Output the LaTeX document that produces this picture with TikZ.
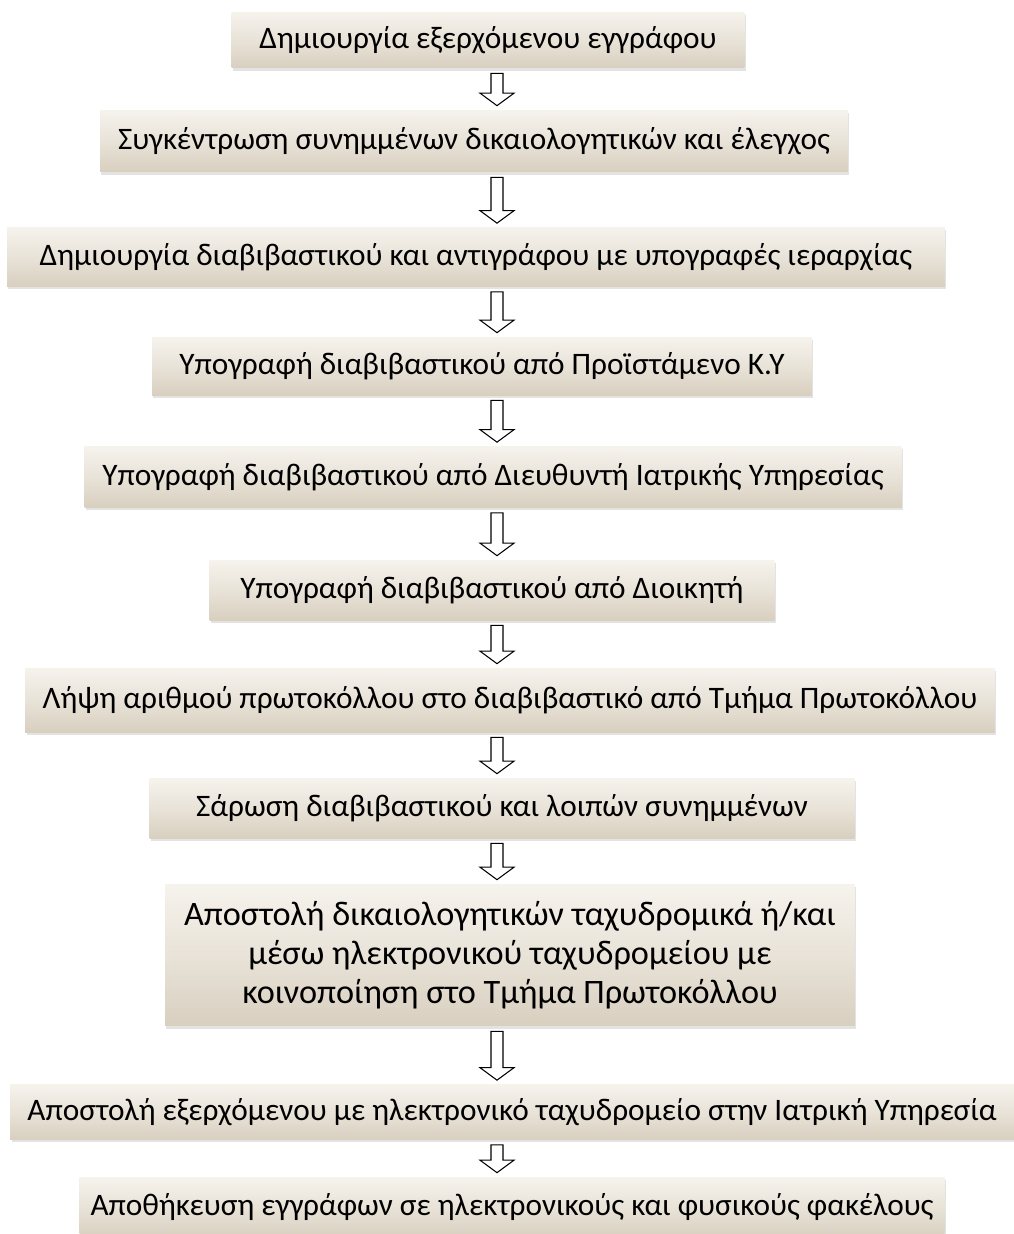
\documentclass[tikz,border=0pt]{standalone}
\usepackage{fontspec}
\setmainfont{Carlito}
\usetikzlibrary{calc, shadows}
\definecolor{boxtop}{RGB}{246,243,237}
\definecolor{boxbot}{RGB}{216,207,191}
\tikzset{
    stepbox/.style = {rectangle, align=center, inner sep=0pt, top color=boxtop, bottom color=boxbot, middle color=boxtop!55!boxbot, drop shadow={opacity=0.22, shadow xshift=0.8pt, shadow yshift=-1.6pt}, font=\fontsize{17.8}{22.2}\selectfont},
    downarrow/.style = {draw=black, fill=white, line width=0.6pt, line join=miter,
        to path={let \p1=(\tikztostart), \p2=(\tikztotarget) in
            (\x1-0.12cm,\y1) -- (\x1-0.12cm,\y2+0.25cm) -- (\x1-0.34cm,\y2+0.25cm) -- (\x1,\y2)
            -- (\x1+0.34cm,\y2+0.25cm) -- (\x1+0.12cm,\y2+0.25cm) -- (\x1+0.12cm,\y1) -- cycle}}
}

\begin{document}
\begin{tikzpicture}[x=0.02cm, y=-0.02cm]
\useasboundingbox (0,0) rectangle (1014,1234);
\coordinate (ax) at (497,0);

\node (b1) [stepbox, minimum width=10.26cm, minimum height=1.12cm] at (488,40) {Δημιουργία εξερχόμενου εγγράφου};
\node (b2) [stepbox, minimum width=14.96cm, minimum height=1.24cm] at (474,141) {Συγκέντρωση συνημμένων δικαιολογητικών και έλεγχος};
\node (b3) [stepbox, minimum width=18.76cm, minimum height=1.18cm] at (476,257) {Δημιουργία διαβιβαστικού και αντιγράφου με υπογραφές ιεραρχίας};
\node (b4) [stepbox, minimum width=13.2cm, minimum height=1.16cm] at (482,366) {Υπογραφή διαβιβαστικού από Προϊστάμενο Κ.Υ};
\node (b5) [stepbox, minimum width=16.34cm, minimum height=1.22cm] at (493,477) {Υπογραφή διαβιβαστικού από Διευθυντή Ιατρικής Υπηρεσίας};
\node (b6) [stepbox, minimum width=11.3cm, minimum height=1.2cm] at (492,590) {Υπογραφή διαβιβαστικού από Διοικητή};
\node (b7) [stepbox, minimum width=19.4cm, minimum height=1.28cm] at (510,700) {Λήψη αριθμού πρωτοκόλλου στο διαβιβαστικό από Τμήμα Πρωτοκόλλου};
\node (b8) [stepbox, minimum width=14.1cm, minimum height=1.2cm] at (502,808) {Σάρωση διαβιβαστικού και λοιπών συνημμένων};
\node (b9) [stepbox, minimum width=13.8cm, minimum height=2.84cm, font=\fontsize{19.5}{22.2}\selectfont] at (510,955) {Αποστολή δικαιολογητικών ταχυδρομικά ή/και\\μέσω ηλεκτρονικού ταχυδρομείου με\\κοινοποίηση στο Τμήμα Πρωτοκόλλου};
\node (b10) [stepbox, minimum width=20.08cm, minimum height=1.1cm] at (512,1112) {Αποστολή εξερχόμενου με ηλεκτρονικό ταχυδρομείο στην Ιατρική Υπηρεσία};
\node (b11) [stepbox, minimum width=17.3cm, minimum height=1.2cm] at (512,1207) {Αποθήκευση εγγράφων σε ηλεκτρονικούς και φυσικούς φακέλους};

% hollow arrows between the steps
\foreach \a/\b in {b1/b2, b2/b3, b3/b4, b4/b5, b5/b6, b6/b7, b7/b8, b8/b9, b9/b10, b10/b11}
    \draw[downarrow] ($(\a.south -| ax)+(0,-0.1cm)$) to ($(\b.north -| ax)+(0,0.08cm)$);
\end{tikzpicture}
\end{document}
